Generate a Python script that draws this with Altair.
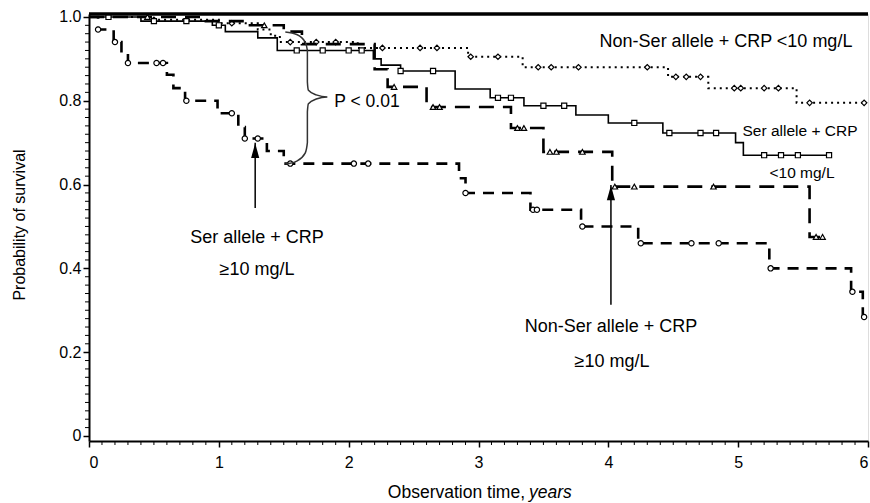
import altair as alt
import pandas as pd

# ---------------- data ----------------
# Non-Ser allele + CRP <10 mg/L  (dotted, diamonds)
ns_lo_t = [0, 0.5, 1.0, 1.3, 1.4, 1.47, 2.07, 2.92, 3.34, 4.46, 4.77, 5.45]
ns_lo_s = [1.0, 0.993, 0.985, 0.97, 0.955, 0.94, 0.926, 0.905, 0.88, 0.857, 0.83, 0.795]
ns_lo_end = 5.97
ns_lo_cens = [0.5, 1.1, 1.55, 1.75, 1.9, 2.26, 2.55, 2.68, 2.94, 3.15, 3.46, 3.56, 3.77,
              4.3, 4.52, 4.6, 4.71, 4.97, 5.02, 5.2, 5.31, 5.55, 5.97]

# Ser allele + CRP <10 mg/L  (solid, squares)
ser_lo_t = [0, 0.4, 0.95, 1.05, 1.3, 1.45, 2.19, 2.25, 2.4, 2.82, 3.09, 3.35, 3.75, 4.0, 4.42, 4.98, 5.04]
ser_lo_s = [1.0, 0.99, 0.98, 0.965, 0.95, 0.92, 0.9, 0.885, 0.871, 0.828, 0.807, 0.788, 0.766,
            0.747, 0.723, 0.70, 0.67]
ser_lo_end = 5.72
ser_lo_cens = [0.15, 0.5, 0.75, 1.0, 1.6, 1.8, 2.0, 2.1, 2.4, 2.65, 3.15, 3.25, 3.5, 3.66,
               4.2, 4.47, 4.71, 4.83, 5.2, 5.33, 5.46, 5.7]

# Non-Ser allele + CRP >=10 mg/L  (long dash, triangles)
ns_hi_t = [0, 0.9, 1.2, 1.5, 1.64, 2.2, 2.3, 2.6, 3.25, 3.5, 4.03, 5.55]
ns_hi_s = [1.0, 0.99, 0.98, 0.965, 0.935, 0.875, 0.833, 0.785, 0.735, 0.678, 0.595, 0.475]
ns_hi_end = 5.69
ns_hi_cens = [0.45, 1.35, 2.35, 2.65, 2.7, 3.3, 3.35, 3.55, 3.6, 3.8, 4.05, 4.2, 4.81, 5.6, 5.65]

# Ser allele + CRP >=10 mg/L  (dashed, circles)
ser_hi_t = [0, 0.07, 0.19, 0.25, 0.3, 0.6, 0.65, 0.74, 0.99, 1.15, 1.2, 1.37, 1.5, 2.85, 2.9,
            3.4, 3.79, 4.23, 5.24, 5.87, 5.96]
ser_hi_s = [1.0, 0.97, 0.94, 0.914, 0.89, 0.862, 0.83, 0.80, 0.77, 0.737, 0.71, 0.68, 0.65,
            0.615, 0.58, 0.54, 0.50, 0.46, 0.40, 0.344, 0.284]
ser_hi_end = 6.0
ser_hi_cens = [0.07, 0.2, 0.3, 0.52, 0.57, 0.75, 1.1, 1.2, 1.3, 1.55, 2.04, 2.15, 2.9, 3.42,
               3.45, 3.8, 4.25, 4.64, 4.85, 5.25, 5.88, 5.97]

# brace annotation path (years, probability)
brace_t = [1.512, 1.60, 1.665, 1.682, 1.682, 1.69, 1.75, 1.836, 1.75, 1.69, 1.682, 1.682, 1.665, 1.60, 1.512]
brace_s = [0.964, 0.958, 0.94, 0.92, 0.845, 0.825, 0.814, 0.809, 0.804, 0.793, 0.773, 0.70, 0.675, 0.656, 0.649]

# arrows (x in years, from / to probability)
arrow_t = [1.28, 4.02]
arrow_from = [0.544, 0.313]
arrow_to = [0.70, 0.599]

x_major = [0, 1, 2, 3, 4, 5, 6]
y_major = [0, 0.2, 0.4, 0.6, 0.8, 1.0]
x_minor = [round(i * 0.1, 1) for i in range(61) if i % 10 != 0]
y_minor = [round(i * 0.02, 2) for i in range(51) if i % 10 != 0]

# ---------------- build tables ----------------
def step_df(ts, ss, end):
    return pd.DataFrame({"t": ts + [end], "s": ss + [ss[-1]]})


def surv_at(ts, ss, t):
    v = ss[0]
    for ti, si in zip(ts, ss):
        if t >= ti:
            v = si
    return v


def cens_df(ts, ss, cens):
    return pd.DataFrame({"t": cens, "s": [surv_at(ts, ss, c) for c in cens]})


W, H = 779, 427
FONT = "Liberation Sans"

xscale = alt.Scale(domain=[0, 6], nice=False, zero=False)
yscale = alt.Scale(domain=[-0.012, 1.007], nice=False, zero=False)

xaxis = alt.Axis(values=x_major, format="d", tickSize=6, tickWidth=1.5, tickColor="black",
                 domainWidth=2, domainColor="black", labelFont=FONT, labelFontSize=16,
                 labelColor="black", labelPadding=7, grid=False, title=None)
yaxis = alt.Axis(values=y_major, labelExpr="datum.value == 0 ? '0' : format(datum.value, '.1f')",
                 tickSize=6, tickWidth=1.5, tickColor="black", domainWidth=2,
                 domainColor="black", labelFont=FONT, labelFontSize=16, labelColor="black",
                 labelPadding=2, grid=False, title=None)

X = lambda f: alt.X(f, type="quantitative", scale=xscale, axis=xaxis)
Y = lambda f: alt.Y(f, type="quantitative", scale=yscale, axis=yaxis)

groups = [
    (ns_lo_t, ns_lo_s, ns_lo_end, ns_lo_cens, dict(strokeWidth=2, strokeDash=[2, 4]), "diamond", 30),
    (ser_lo_t, ser_lo_s, ser_lo_end, ser_lo_cens, dict(strokeWidth=1.6), "square", 26),
    (ns_hi_t, ns_hi_s, ns_hi_end, ns_hi_cens, dict(strokeWidth=2.6, strokeDash=[15, 9]), "triangle-up", 30),
    (ser_hi_t, ser_hi_s, ser_hi_end, ser_hi_cens, dict(strokeWidth=2.6, strokeDash=[11, 8]), "circle", 28),
]

layers = []
for ts, ss, end, cens, style, shape, size in groups:
    layers.append(
        alt.Chart(step_df(ts, ss, end)).mark_line(interpolate="step-after", color="black", **style)
        .encode(x=X("t"), y=Y("s"))
    )
    layers.append(
        alt.Chart(cens_df(ts, ss, cens)).mark_point(shape=shape, size=size, filled=True, fill="white",
                                                     stroke="black", strokeWidth=1.2, opacity=1)
        .encode(x=X("t"), y=Y("s"))
    )

# minor ticks
layers.append(
    alt.Chart(pd.DataFrame({"v": y_minor})).mark_rule(color="black", strokeWidth=1)
    .encode(y=Y("v"), x=alt.value(-4), x2=alt.value(0))
)
layers.append(
    alt.Chart(pd.DataFrame({"v": x_minor})).mark_rule(color="black", strokeWidth=1)
    .encode(x=X("v"), y=alt.value(H), y2=alt.value(H + 4))
)

# brace
brace = pd.DataFrame({"t": brace_t, "s": brace_s, "o": list(range(len(brace_t)))})
layers.append(
    alt.Chart(brace).mark_line(color="#333", strokeWidth=1.5, interpolate="monotone")
    .encode(x=X("t"), y=Y("s"), order="o:Q")
)

# arrows
arr = pd.DataFrame({"t": arrow_t, "a": arrow_from, "b": arrow_to})
layers.append(
    alt.Chart(arr).mark_rule(color="black", strokeWidth=1.5)
    .encode(x=X("t"), y=Y("a"), y2="b")
)
layers.append(
    alt.Chart(arr).transform_calculate(c="datum.b - 0.019")
    .mark_point(shape="M -0.55 1 L 0 -1 L 0.55 1 Z", size=220, filled=True, color="black", opacity=1)
    .encode(x=X("t"), y=Y("c:Q"))
)

one = pd.DataFrame({"a": [0]})
# thick top border
layers.append(
    alt.Chart(one).mark_rule(color="black", strokeWidth=3.5)
    .encode(x=alt.value(0), x2=alt.value(W), y=alt.value(0))
)


def label(text, x, y, size=16, **kw):
    return alt.Chart(one).mark_text(text=text, font=FONT, fontSize=size, color="black",
                                    align=kw.pop("align", "center"), baseline="middle", **kw
                                    ).encode(x=alt.value(x), y=alt.value(y))


layers += [
    label("Non-Ser allele + CRP <10 mg/L", 637, 28, 18),
    label("Ser allele + CRP", 711, 117, 15.5),
    label("<10 mg/L", 713, 159, 15.5),
    label("P < 0.01", 278, 88, 17.5),
    label("Ser allele + CRP", 168, 224, 18),
    label("\u226510 mg/L", 168, 256, 18),
    label("Non-Ser allele + CRP", 522, 313, 18),
    label("\u226510 mg/L", 523, 348, 18),
    label("Observation time,", 436, 479, 17.5, align="right"),
    label("years", 440, 479, 17.5, align="left", fontStyle="italic"),
    label("Probability of survival", -69, 211, 16, angle=270),
]

chart = alt.layer(*layers).properties(
    width=W, height=H,
    autosize=alt.AutoSizeParams(type="none"),
    padding={"left": 89, "top": 14, "right": 2, "bottom": 62},
).configure_view(stroke="#555", strokeWidth=1).configure(background="white")

chart.save("out.html", embed_options={"renderer": "svg", "actions": False})
